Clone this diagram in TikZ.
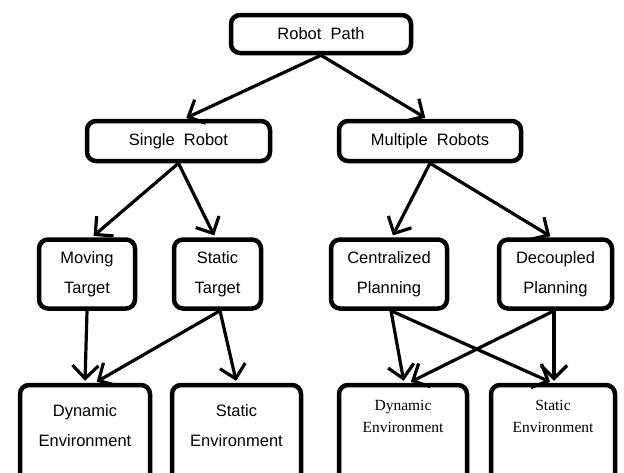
\documentclass[tikz,border=0pt]{standalone}
\usepackage{fontspec}
\setmainfont{Liberation Sans}
\newfontfamily\serifface{Liberation Serif}
\usetikzlibrary{arrows.meta}
\begin{document}
\begin{tikzpicture}[x=1pt,y=-1pt,
  box/.style={draw,line width=4.5pt,rounded corners=9pt,inner sep=0pt,align=center,font=\fontsize{16.5}{30}\selectfont},
  conn/.style={line width=3.2pt,-{Straight Barb[length=13pt,width=26pt,line width=3.2pt]},shorten >=2pt}]
\clip (0,0) rectangle (624,472);
\fill[white] (0,0) rectangle (624,472);
% boxes
\node[box,minimum width=180pt,minimum height=38pt] (rp) at (321,34) {Robot\ \ Path};
\node[box,minimum width=183pt,minimum height=40pt] (sr) at (178.5,141) {Single\ \ Robot};
\node[box,minimum width=182pt,minimum height=40pt] (mr) at (430,141) {Multiple\ \ Robots};
\node[box,minimum width=96pt,minimum height=69pt] (mt) at (87,274) {Moving\\Target};
\node[box,minimum width=87pt,minimum height=69pt] (st) at (217.5,274) {Static\\Target};
\node[box,minimum width=116pt,minimum height=69pt] (cp) at (389,274) {Centralized\\Planning};
\node[box,minimum width=113pt,minimum height=69pt] (dp) at (555.5,274) {Decoupled\\Planning};
\node[box,minimum width=130pt,minimum height=105pt] (de1) at (85,437.5) {};
\node[box,minimum width=129pt,minimum height=105pt] (se1) at (236.5,437.5) {};
\node[box,minimum width=128pt,minimum height=105pt] (de2) at (403,437.5) {};
\node[box,minimum width=124pt,minimum height=105pt] (se2) at (553,437.5) {};
% texts of bottom boxes
\node[align=center,font=\fontsize{16.5}{30}\selectfont] (t1) at (85,426) {Dynamic\\Environment};
\node[align=center,font=\fontsize{16.5}{30}\selectfont] (t2) at (236.5,426) {Static\\Environment};
\node[align=center,font=\serifface\fontsize{15.5}{22}\selectfont] (t3) at (403,416) {Dynamic\\Environment};
\node[align=center,font=\serifface\fontsize{15.5}{22}\selectfont] (t4) at (553,416) {Static\\Environment};
% connectors
\draw[conn] (rp.south) -- ([xshift=6pt]sr.north);
\draw[conn] (rp.south) -- ([xshift=-3pt]mr.north);
\draw[conn] (sr.south) -- ([xshift=5pt]mt.north);
\draw[conn] (sr.south) -- ([xshift=-2.5pt]st.north);
\draw[conn] (mr.south) -- ([xshift=3pt]cp.north);
\draw[conn] (mr.south) -- ([xshift=-3.5pt]dp.north);
\draw[conn] (mt.south) -- (de1.north);
\draw[conn] ([xshift=2.5pt]st.south) -- ([xshift=10pt]de1.north);
\draw[conn] ([xshift=2.5pt]st.south) -- (se1.north);
\draw[conn] ([xshift=2pt]cp.south) -- ([xshift=1pt]de2.north);
\draw[conn] ([xshift=2pt]cp.south) -- ([xshift=-1pt]se2.north);
\draw[conn] ([xshift=-1.5pt]dp.south) -- ([xshift=6pt]de2.north);
\draw[conn] ([xshift=-1.5pt]dp.south) -- ([xshift=1pt]se2.north);
\end{tikzpicture}
\end{document}
